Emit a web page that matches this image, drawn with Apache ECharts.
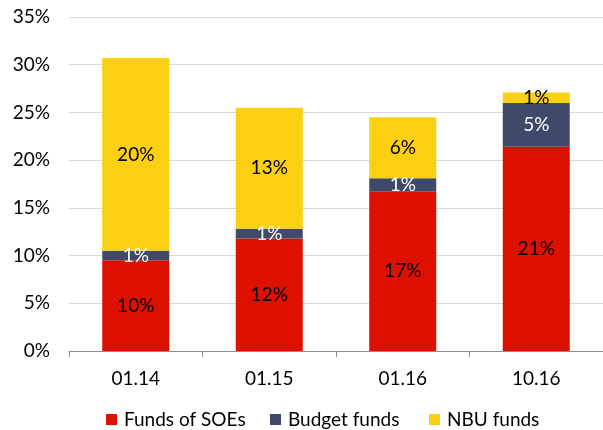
<!DOCTYPE html>
<html><head><meta charset="utf-8">
<script src="https://cdn.jsdelivr.net/npm/echarts@6/dist/echarts.min.js"></script>
<style>html,body{margin:0;padding:0;background:#fff}#c{width:603px;height:430px}</style>
</head><body><div id="c"></div>
<script>
const categories = ['01.14', '01.15', '01.16', '10.16'];
const soeFunds = [9.5, 11.8, 16.7, 21.4];
const budgetFunds = [1.0, 1.0, 1.4, 4.6];
const nbuFunds = [20.2, 12.7, 6.4, 1.1];
const seriesNames = ['Funds of SOEs', 'Budget funds', 'NBU funds'];
const yTicks = [0, 5, 10, 15, 20, 25, 30, 35];

const FONT = 'Lato, "Open Sans", sans-serif';
const FS = 19;
const colors = ['#DE1000', '#3F4A6B', '#FBCF12'];
const labelColors = ['#000', '#fff', '#000'];
const legendLefts = [101, 265, 424];
const chart = echarts.init(document.getElementById('c'));
const mk = (name, data, i) => ({
  name, type: 'bar', stack: 'a', data, barWidth: 67,
  itemStyle: { color: colors[i] },
  label: { show: true, position: 'inside', color: labelColors[i], fontFamily: FONT, fontSize: FS,
    formatter: p => Math.round(p.value) + '%' }
});
chart.setOption({
  animation: false,
  textStyle: { fontFamily: FONT },
  grid: { left: 69, width: 542, top: 17, bottom: 79, containLabel: false },
  legend: seriesNames.map((n, i) => ({
    data: [n], top: 405, left: legendLefts[i], itemWidth: 11, itemHeight: 11,
    icon: 'rect', textStyle: { fontFamily: FONT, fontSize: FS, color: '#000', padding: [0, 0, 0, 2] }
  })),
  xAxis: {
    type: 'category', data: categories,
    axisLine: { lineStyle: { color: '#8c8c8c', width: 1 } },
    axisTick: { show: true, length: 6, lineStyle: { color: '#8c8c8c' } },
    axisLabel: { fontFamily: FONT, fontSize: FS, color: '#000', margin: 18 }
  },
  yAxis: {
    type: 'value', min: yTicks[0], max: yTicks[yTicks.length - 1], interval: 5,
    axisLine: { show: false }, axisTick: { show: false },
    splitLine: { lineStyle: { color: '#d9d9d9', width: 1 } },
    axisLabel: { fontFamily: FONT, fontSize: FS, color: '#000', margin: 19, formatter: '{value}%' }
  },
  series: [mk(seriesNames[0], soeFunds, 0), mk(seriesNames[1], budgetFunds, 1), mk(seriesNames[2], nbuFunds, 2)]
});
</script></body></html>
